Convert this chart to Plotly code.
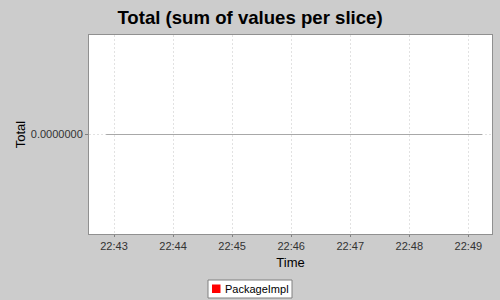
import plotly.graph_objects as go

# Data
series_name = "PackageImpl"
times = ["2010-01-01 22:42:52", "2010-01-01 22:44:00", "2010-01-01 22:45:00",
         "2010-01-01 22:46:00", "2010-01-01 22:47:00", "2010-01-01 22:48:00",
         "2010-01-01 22:49:14"]
values = [0, 0, 0, 0, 0, 0, 0]
x_ticks = ["2010-01-01 22:43:00", "2010-01-01 22:44:00", "2010-01-01 22:45:00",
           "2010-01-01 22:46:00", "2010-01-01 22:47:00", "2010-01-01 22:48:00",
           "2010-01-01 22:49:00"]
x_tick_labels = ["22:43", "22:44", "22:45", "22:46", "22:47", "22:48", "22:49"]
y_ticks = [0]
y_tick_labels = ["0.0000000"]
x_range = ["2010-01-01 22:42:34.6", "2010-01-01 22:49:24"]
y_range = [-1, 1]

FONT = "Liberation Sans, Arial, sans-serif"
BG = "#cccccc"

# plot area in pixels
L, R, T, B = 89, 492, 35, 234
W, H = R - L, B - T


def px(x):
    return (x - L) / W


def py(y):
    return (B - y) / H


fig = go.Figure()
fig.add_trace(go.Scatter(
    x=times, y=values, mode="lines", name=series_name,
    line=dict(color="#a8a8a8", width=1),
    showlegend=False, hoverinfo="skip",
))

# manual legend (JFreeChart style)
fig.add_shape(type="rect", xref="paper", yref="paper",
              x0=px(208), x1=px(292), y0=py(298), y1=py(280),
              fillcolor="white", line=dict(color="#808080", width=1), layer="above")
fig.add_shape(type="rect", xref="paper", yref="paper",
              x0=px(212), x1=px(220.5), y0=py(293), y1=py(284.5),
              fillcolor="#ff0000", line=dict(width=0), layer="above")
fig.add_annotation(text=series_name, xref="paper", yref="paper",
                   x=px(223), y=py(289), xanchor="left", yanchor="middle",
                   showarrow=False,
                   font=dict(family=FONT, size=11, color="black"))

fig.update_layout(
    width=500, height=300,
    paper_bgcolor=BG, plot_bgcolor="white",
    margin=dict(l=L, r=500 - R, t=T, b=300 - B),
    title=dict(text="<b>Total (sum of values per slice)</b>",
               font=dict(family=FONT, size=18.6, color="black"),
               x=0.5, xanchor="center", xref="container",
               y=1 - 17 / 300, yanchor="middle", yref="container"),
    font=dict(family=FONT, size=11, color="#333333"),
    showlegend=False,
)
fig.update_xaxes(
    range=x_range, type="date", automargin=False,
    tickvals=x_ticks, ticktext=x_tick_labels,
    tickfont=dict(family=FONT, size=11, color="#333333"),
    ticks="outside", ticklen=2, tickcolor="#808080",
    showgrid=True, gridcolor="#e2e2e2", griddash="2px,2px", gridwidth=1,
    showline=True, linecolor="#909090", mirror=True, zeroline=False,
    title=dict(text="Time", font=dict(family=FONT, size=13, color="black"), standoff=6),
)
fig.update_yaxes(
    range=y_range, tickvals=y_ticks, ticktext=y_tick_labels, automargin=False,
    tickfont=dict(family=FONT, size=11, color="#333333"),
    ticks="outside", ticklen=3, tickcolor="#808080",
    showgrid=True, gridcolor="#e2e2e2", griddash="2px,2px", gridwidth=1,
    showline=True, linecolor="#909090", mirror=True, zeroline=False,
    title=dict(text="Total", font=dict(family=FONT, size=13, color="black"), standoff=2),
)

fig.write_html("out.html")
